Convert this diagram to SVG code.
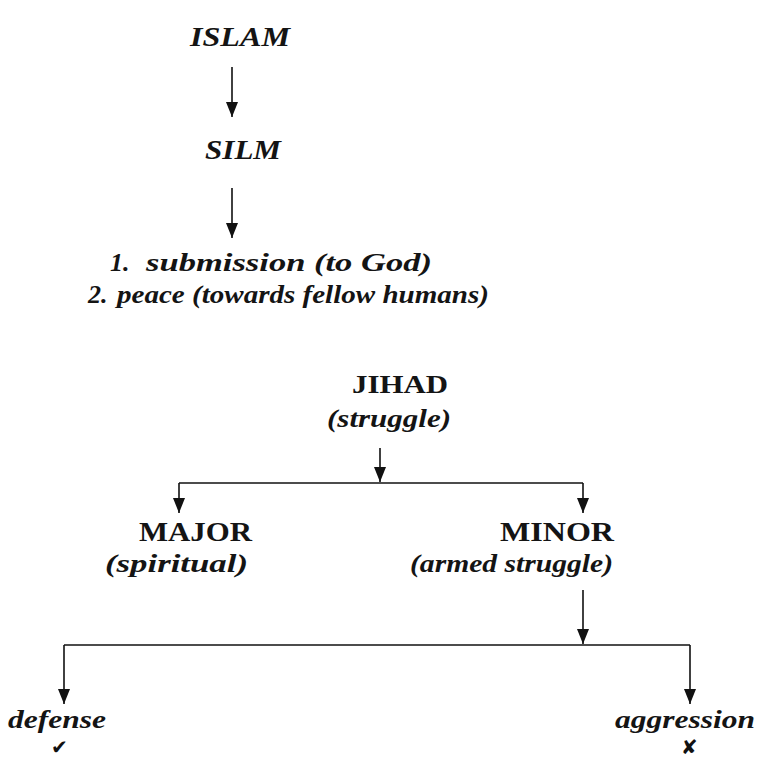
<svg xmlns="http://www.w3.org/2000/svg" width="759" height="761" viewBox="0 0 759 761">
<defs>
<marker id="ah" viewBox="0 0 15 12" refX="15" refY="6" markerWidth="15" markerHeight="12" markerUnits="userSpaceOnUse" orient="auto">
<path d="M0,0 L15,6 L0,12 Z" fill="#111"/>
</marker>
<style>
.t{font-family:"Liberation Serif","Times New Roman",serif;fill:#141414;}
.bi{font-weight:bold;font-style:italic;}
.b{font-weight:bold;}
.c{stroke:#111;stroke-width:1.6;fill:none;}
.a{marker-end:url(#ah);}
.sym{font-family:"DejaVu Sans",sans-serif;fill:#111;}
</style>
</defs>
<rect width="759" height="761" fill="#fff"/>
<g id="connectors">
<path class="c a" d="M232,67 V117"/>
<path class="c a" d="M232,188 V238"/>
<path class="c a" d="M380,448 V482"/>
<path class="c" d="M179,483 H583"/>
<path class="c a" d="M179,483 V513"/>
<path class="c a" d="M583,483 V513"/>
<path class="c a" d="M583,590 V644"/>
<path class="c" d="M64,645 H690"/>
<path class="c a" d="M64,645 V704"/>
<path class="c a" d="M690,645 V704"/>
</g>
<g id="islam"><text class="t bi" x="190" y="46" font-size="28" textLength="100" lengthAdjust="spacingAndGlyphs">ISLAM</text></g>
<g id="silm"><text class="t bi" x="205" y="159" font-size="28" textLength="76" lengthAdjust="spacingAndGlyphs">SILM</text></g>
<g id="meanings">
<text class="t bi" x="110" y="271" font-size="26">1.</text>
<text class="t bi" x="146" y="271" font-size="26" textLength="286" lengthAdjust="spacingAndGlyphs">submission (to God)</text>
<text class="t bi" x="88" y="303" font-size="26">2.</text>
<text class="t bi" x="117" y="303" font-size="26" textLength="372" lengthAdjust="spacingAndGlyphs">peace (towards fellow humans)</text>
</g>
<g id="jihad">
<text class="t b" x="352" y="393" font-size="26" textLength="96" lengthAdjust="spacingAndGlyphs">JIHAD</text>
<text class="t bi" x="327" y="427" font-size="26" textLength="124" lengthAdjust="spacingAndGlyphs">(struggle)</text>
</g>
<g id="major">
<text class="t b" x="139" y="541" font-size="27" textLength="113" lengthAdjust="spacingAndGlyphs">MAJOR</text>
<text class="t bi" x="105" y="572" font-size="26" textLength="143" lengthAdjust="spacingAndGlyphs">(spiritual)</text>
</g>
<g id="minor">
<text class="t b" x="500" y="541" font-size="27" textLength="114" lengthAdjust="spacingAndGlyphs">MINOR</text>
<text class="t bi" x="410" y="572" font-size="26" textLength="203" lengthAdjust="spacingAndGlyphs">(armed struggle)</text>
</g>
<g id="defense">
<text class="t bi" x="8" y="728" font-size="26" textLength="98" lengthAdjust="spacingAndGlyphs">defense</text>
<text class="sym" x="51" y="754" font-size="20">✔</text>
</g>
<g id="aggression">
<text class="t bi" x="615" y="728" font-size="26" textLength="140" lengthAdjust="spacingAndGlyphs">aggression</text>
<text class="sym" x="681" y="754" font-size="20">✘</text>
</g>
</svg>
